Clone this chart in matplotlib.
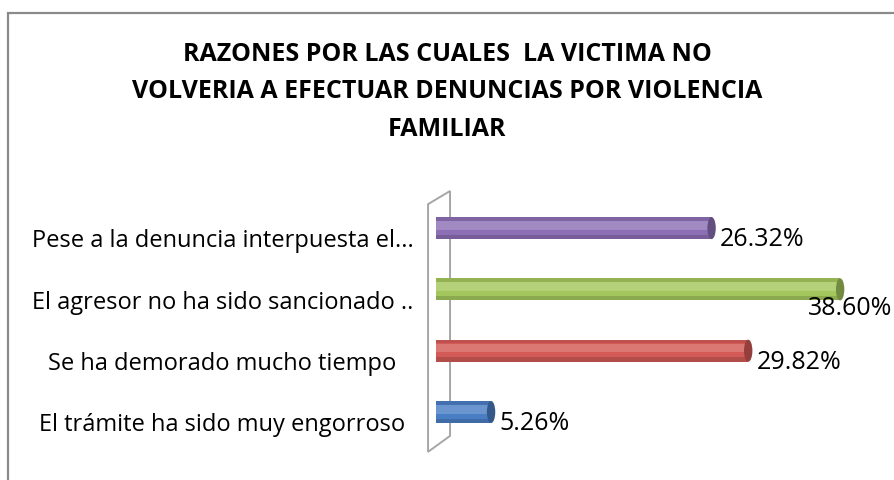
import matplotlib.pyplot as plt
from matplotlib.patches import Ellipse, Polygon, Rectangle
from matplotlib.colors import to_rgb

categories = ['El trámite ha sido muy engorroso',
              'Se ha demorado mucho tiempo',
              'El agresor no ha sido sancionado ..',
              'Pese a la denuncia interpuesta el...']
values = [5.26, 29.82, 38.60, 26.32]
value_labels = ['5.26%', '29.82%', '38.60%', '26.32%']
colors = ['#4A7EC4', '#D35A56', '#A3C75C', '#8C6FB5']
title = 'RAZONES POR LAS CUALES  LA VICTIMA NO\nVOLVERIA A EFECTUAR DENUNCIAS POR VIOLENCIA\nFAMILIAR'

plt.rcParams['font.family'] = ['Open Sans', 'DejaVu Sans']

W, H = 894, 481
fig = plt.figure(figsize=(W / 100, H / 100), dpi=100)

# outer chart border
fig.add_artist(Rectangle((8 / W, -0.1), 1.1, (H - 14) / H + 0.1, transform=fig.transFigure,
                         fill=False, edgecolor='#8a8a8a', linewidth=1.6))

fig.text(0.5, 1 - 92 / H, title, ha='center', va='center', fontsize=18,
         fontweight='bold', linespacing=1.68)

ax = fig.add_axes([436 / W, 1 - 455 / H, (W - 436) / W, (455 - 192) / H])
ax.set_xlim(0, (W - 436) / 10.47)
ax.set_ylim(-0.685, 3.605)
ax.axis('off')

# back wall (3D panel)
wall = Polygon([(-0.76, -0.65), (-0.76, 3.39), (1.34, 3.605), (1.34, -0.39)], closed=True,
               facecolor='white', edgecolor='#a6a6a6', linewidth=1.4, clip_on=False, zorder=1)
ax.add_patch(wall)

bh = 0.36
cap_w = 0.8
for i, (v, c) in enumerate(zip(values, colors)):
    rgb = to_rgb(c)
    dark = tuple(x * 0.7 for x in rgb)
    light = tuple(x + (1 - x) * 0.18 for x in rgb)
    # cylinder body with simple shading bands
    ax.barh(i, v, height=bh, color=c, zorder=2)
    ax.barh(i + bh * 0.42, v, height=bh * 0.16, color=tuple(x * 0.9 for x in rgb), zorder=3)
    ax.barh(i + bh * 0.12, v, height=bh * 0.4, color=light, zorder=3)
    ax.barh(i - bh * 0.4, v, height=bh * 0.2, color=tuple(x * 0.85 for x in rgb), zorder=3)
    ax.add_patch(Ellipse((v, i), cap_w, bh, facecolor=dark, edgecolor='none', zorder=4))
    ax.text(-20.4, i - 0.2, categories[i], ha='center', va='center', fontsize=17,
            clip_on=False)
    if v == max(values):
        ax.text(v - 3.1, i - 0.3, value_labels[i], ha='left', va='center', fontsize=18,
                clip_on=False)
    else:
        ax.text(v + 0.8, i - 0.17, value_labels[i], ha='left', va='center', fontsize=18,
                clip_on=False)

fig.savefig('out.png', dpi=100)
